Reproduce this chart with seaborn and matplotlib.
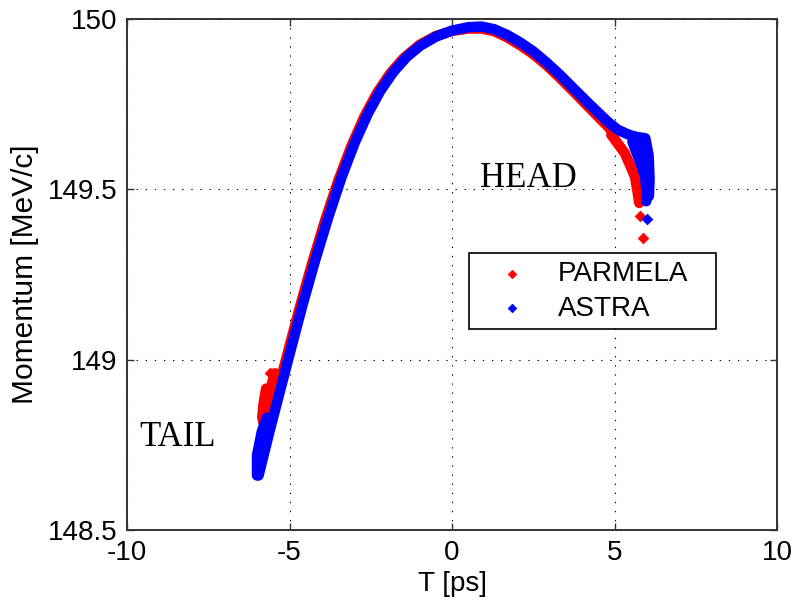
import matplotlib
matplotlib.use("Agg")
import matplotlib.pyplot as plt
import seaborn as sns

# ---- data ----
# ASTRA (blue) centre line of the bunch
astra_t = [-5.95, -5.60, -5.30, -5.00, -4.60, -4.20, -3.80, -3.40, -3.00, -2.60,
           -2.20, -1.80, -1.40, -1.00, -0.50, 0.00, 0.50, 0.90, 1.30, 1.70,
           2.10, 2.50, 2.90, 3.30, 3.70, 4.10, 4.50, 4.80, 5.10, 5.40, 5.70, 5.95]
astra_p = [148.660, 148.795, 148.905, 149.015, 149.160, 149.295, 149.420, 149.535,
           149.635, 149.720, 149.790, 149.845, 149.888, 149.920, 149.948, 149.966,
           149.976, 149.978, 149.970, 149.953, 149.931, 149.905, 149.873, 149.838,
           149.800, 149.762, 149.725, 149.698, 149.675, 149.662, 149.652, 149.632]
# ASTRA head blob and tail spread
astra_head_t = [5.60, 5.95, 6.05, 6.08, 6.06]
astra_head_p = [149.655, 149.650, 149.600, 149.530, 149.480]
astra_head2_t = [5.55, 5.76, 5.94, 5.99, 5.98]
astra_head2_p = [149.640, 149.586, 149.537, 149.490, 149.465]
astra_head3_t = [5.80, 5.97, 6.02]
astra_head3_p = [149.625, 149.585, 149.520]
astra_tail_t = [-6.00, -6.00, -5.85, -5.70]
astra_tail_p = [148.660, 148.720, 148.790, 148.830]
# ASTRA isolated particles
astra_out_t = [6.00]
astra_out_p = [149.412]

# PARMELA (red) centre line
parmela_t = [-5.80, -5.50, -5.10, -4.70, -4.30, -3.90, -3.50, -3.10, -2.70, -2.30,
             -1.90, -1.50, -1.00, -0.50, 0.00, 0.50, 0.90, 1.30, 1.70, 2.10,
             2.50, 2.90, 3.30, 3.70, 4.10, 4.50, 4.80, 5.00]
parmela_p = [148.780, 148.860, 149.003, 149.148, 149.284, 149.410, 149.525, 149.626,
             149.713, 149.784, 149.840, 149.884, 149.924, 149.950, 149.965, 149.972,
             149.972, 149.964, 149.946, 149.923, 149.897, 149.865, 149.829, 149.791,
             149.752, 149.713, 149.684, 149.662]
# PARMELA head wedge and tail spread
parmela_head_t = [4.90, 5.32, 5.63, 5.70, 5.76]
parmela_head_p = [149.660, 149.606, 149.537, 149.498, 149.460]
parmela_tail_t = [-5.45, -5.60, -5.75, -5.82]
parmela_tail_p = [148.960, 148.910, 148.860, 148.820]
parmela_tail2_t = [-5.72, -5.80, -5.84]
parmela_tail2_p = [148.915, 148.870, 148.830]
# PARMELA isolated particles
parmela_out_t = [5.79, 5.87, -5.61]
parmela_out_p = [149.422, 149.356, 148.962]

x_ticks = [-10, -5, 0, 5, 10]
y_ticks = [148.5, 149, 149.5, 150]
y_tick_labels = ["148.5", "149", "149.5", "150"]

RED = "#ff0000"
BLUE = "#0000ff"

sns.set_style("white")
plt.rcParams["font.family"] = ["Liberation Sans", "DejaVu Sans"]
plt.rcParams["axes.unicode_minus"] = False
plt.rcParams["text.color"] = "black"
plt.rcParams["axes.labelcolor"] = "black"

fig = plt.figure(figsize=(7.97, 6.05), dpi=100)
ax = fig.add_axes([127 / 797, 75 / 605, 650 / 797, 511 / 605])

LW = 7.5
line_kw = dict(estimator=None, sort=False, linewidth=LW, ax=ax,
               solid_capstyle="round", solid_joinstyle="round", legend=False)

# PARMELA first, ASTRA on top
for tt, pp in [(parmela_t, parmela_p), (parmela_head_t, parmela_head_p),
               (parmela_tail_t, parmela_tail_p), (parmela_tail2_t, parmela_tail2_p)]:
    sns.lineplot(x=tt, y=pp, color=RED, **line_kw)
sns.scatterplot(x=parmela_out_t, y=parmela_out_p, color=RED, marker="D", s=30,
                edgecolor=RED, linewidth=0.5, ax=ax, label="PARMELA", zorder=3)

for tt, pp in [(astra_t, astra_p), (astra_head_t, astra_head_p),
               (astra_head2_t, astra_head2_p), (astra_head3_t, astra_head3_p),
               (astra_tail_t, astra_tail_p)]:
    sns.lineplot(x=tt, y=pp, color=BLUE, **line_kw)
sns.scatterplot(x=astra_out_t, y=astra_out_p, color=BLUE, marker="D", s=30,
                edgecolor=BLUE, linewidth=0.5, ax=ax, label="ASTRA", zorder=3)

ax.set_xlim(-10, 10)
ax.set_ylim(148.5, 150)
ax.set_xticks(x_ticks)
ax.set_yticks(y_ticks)
ax.set_yticklabels(y_tick_labels)

ax.grid(True, color="black", linestyle=(0, (1.2, 7)), linewidth=0.8)
ax.set_axisbelow(True)
for sp in ax.spines.values():
    sp.set_visible(True)
    sp.set_color("#333333")
    sp.set_linewidth(1.4)

ax.tick_params(direction="in", length=5, width=1, colors="#333333",
               labelcolor="black", labelsize=20, pad=7,
               top=True, right=True, bottom=True, left=True)

ax.set_xlabel("T [ps]", fontsize=20, labelpad=4)
ax.set_ylabel("Momentum [MeV/c]", fontsize=21.5, labelpad=6)

ax.text(0.85, 149.508, "HEAD", family=["Liberation Serif", "DejaVu Serif"],
        fontsize=25, ha="left", va="baseline")
ax.text(-9.62, 148.746, "TAIL", family=["Liberation Serif", "DejaVu Serif"],
        fontsize=25, ha="left", va="baseline")

leg = ax.legend(loc="upper left", bbox_to_anchor=(0.526, 0.40, 0.38, 0.142),
                mode="expand", borderaxespad=0, fontsize=20, frameon=True,
                fancybox=False, framealpha=1, edgecolor="black",
                borderpad=0.28, labelspacing=0.32, handlelength=2.52,
                handletextpad=0.4, markerscale=0.8)
leg.get_frame().set_linewidth(1.2)

fig.savefig("out.png", dpi=100)
